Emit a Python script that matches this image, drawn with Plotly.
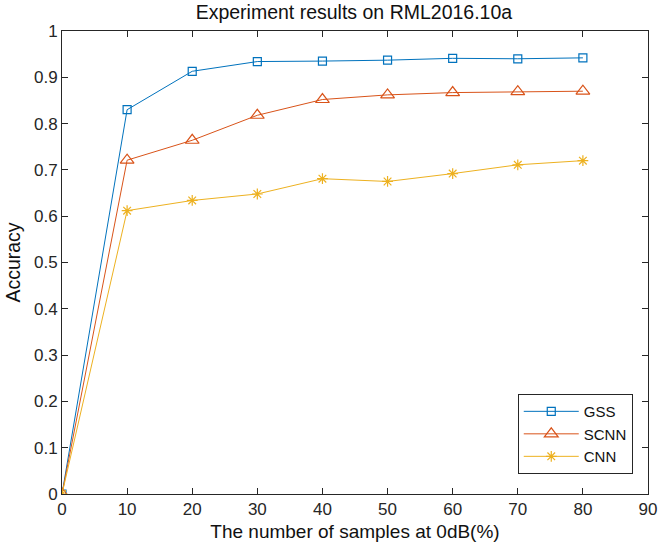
import plotly.graph_objects as go

x_vals = [0, 10, 20, 30, 40, 50, 60, 70, 80]
gss = [0.0, 0.830, 0.913, 0.934, 0.935, 0.937, 0.941, 0.940, 0.942]
scnn = [0.0, 0.721, 0.764, 0.818, 0.852, 0.862, 0.867, 0.869, 0.870]
cnn = [0.0, 0.612, 0.634, 0.648, 0.681, 0.675, 0.692, 0.711, 0.720]

series = [
    ("GSS", gss, "#0072BD", "square-open", 8),
    ("SCNN", scnn, "#D95319", "triangle-up-open", 12),
    ("CNN", cnn, "#EDB120", "asterisk-open", 9),
]

FONT = "Liberation Sans, Arial, sans-serif"

fig = go.Figure()
for name, vals, color, sym, size in series:
    fig.add_trace(go.Scatter(
        x=x_vals, y=vals, name=name, mode="lines+markers",
        line=dict(color=color, width=1),
        marker=dict(symbol=sym, size=size, color=color, line=dict(color=color, width=1.2)),
    ))

axis_common = dict(
    showgrid=False, zeroline=False, showline=True, linecolor="#262626", linewidth=1,
    mirror="allticks", ticks="inside", ticklen=6, tickcolor="#262626",
    tickfont=dict(family=FONT, size=17, color="#262626"),
    automargin=False, ticklabeloverflow="allow",
)

fig.update_layout(
    width=659, height=554,
    margin=dict(l=62, r=11, t=31, b=60),
    paper_bgcolor="white", plot_bgcolor="white",
    font=dict(family=FONT, color="#262626"),
    title=dict(text="Experiment results on RML2016.10a", x=0.537, xanchor="center",
               y=0.978, yanchor="middle", automargin=False,
               font=dict(size=19.5, color="#111111")),
    xaxis=dict(range=[0, 90], dtick=10, tick0=0,
               title=dict(text="The number of samples at 0dB(%)", font=dict(size=19, color="#111111"), standoff=6),
               **axis_common),
    yaxis=dict(range=[0, 1], dtick=0.1, tick0=0,
               title=dict(text="Accuracy", font=dict(size=19.5, color="#111111"), standoff=8),
               **axis_common),
    legend=dict(x=0.974, xanchor="right", y=0.043, yanchor="bottom",
                bgcolor="white", bordercolor="#262626", borderwidth=1,
                font=dict(size=15, color="#111111"), tracegroupgap=0, itemwidth=55),
    showlegend=True,
)

fig.write_html("out.html", config={"displayModeBar": False},
               post_script="document.body.style.margin='0';document.body.style.overflow='hidden';")
